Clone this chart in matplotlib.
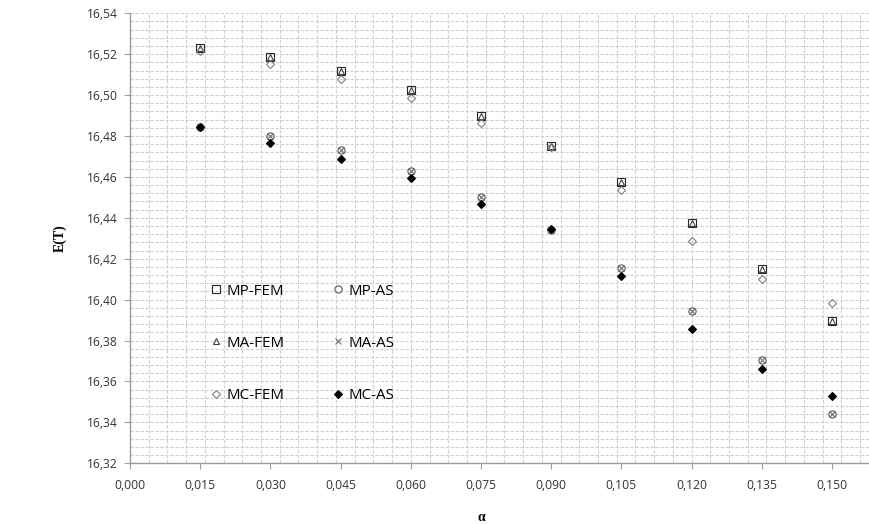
import numpy as np
import matplotlib
matplotlib.use("Agg")
import matplotlib.pyplot as plt
from matplotlib.ticker import MultipleLocator, FuncFormatter

# alpha values and E(T) for each method
alpha = [0.015, 0.030, 0.045, 0.060, 0.075, 0.090, 0.105, 0.120, 0.135, 0.150]

mp_fem = [16.5228, 16.5186, 16.5117, 16.5023, 16.4897, 16.4751, 16.4575, 16.4375, 16.4150, 16.3898]
ma_fem = [16.5228, 16.5186, 16.5117, 16.5023, 16.4897, 16.4751, 16.4575, 16.4375, 16.4150, 16.3898]
mc_fem = [16.5216, 16.5154, 16.5078, 16.4986, 16.4865, 16.4748, 16.4535, 16.4287, 16.4103, 16.3984]

mp_as = [16.4842, 16.4799, 16.4730, 16.4628, 16.4501, 16.4343, 16.4157, 16.3945, 16.3704, 16.3443]
ma_as = [16.4842, 16.4799, 16.4730, 16.4628, 16.4501, 16.4343, 16.4157, 16.3945, 16.3704, 16.3443]
mc_as = [16.4842, 16.4766, 16.4687, 16.4593, 16.4467, 16.4344, 16.4114, 16.3859, 16.3660, 16.3529]

x_ticks = np.arange(0, 0.1501, 0.015)
y_ticks = np.arange(16.32, 16.5401, 0.02)

fig = plt.figure(figsize=(8.69, 5.24), dpi=100)
# plot area runs off the right edge of the figure
ax = fig.add_axes([130 / 869, 60.7 / 524, 748.8 / 869, 450 / 524])

mk = dict(ls='none', markeredgewidth=0.8)
h_mpf, = ax.plot(alpha, mp_fem, marker='s', ms=5.2, mfc='none', mec='#262626', label='MP-FEM', **mk)
h_mpa, = ax.plot(alpha, mp_as, marker='o', ms=5.2, mfc='none', mec='#595959', label='MP-AS', **mk)
h_maf, = ax.plot(alpha, ma_fem, marker='^', ms=4.4, mfc='none', mec='#404040', label='MA-FEM', **mk)
h_maa, = ax.plot(alpha, ma_as, marker='x', ms=4.4, mfc='none', mec='#6e6e6e', label='MA-AS', **mk)
h_mcf, = ax.plot(alpha, mc_fem, marker='D', ms=4.0, mfc='none', mec='#7f7f7f', label='MC-FEM', **mk)
h_mca, = ax.plot(alpha, mc_as, marker='D', ms=4.0, mfc='black', mec='black', label='MC-AS', **mk)

ax.set_xlim(0, 0.16)
ax.set_ylim(16.32, 16.54)

ax.set_xticks(x_ticks)
ax.set_yticks(y_ticks)
ax.xaxis.set_minor_locator(MultipleLocator(0.004))
ax.yaxis.set_minor_locator(MultipleLocator(0.004))
ax.xaxis.remove_overlapping_locs = False

ax.xaxis.set_major_formatter(FuncFormatter(lambda v, p: f'{v:.3f}'.replace('.', ',')))
ax.yaxis.set_major_formatter(FuncFormatter(lambda v, p: f'{v:.2f}'.replace('.', ',')))

tick_font = dict(family='Open Sans', size=8.7)
for lab in ax.get_xticklabels() + ax.get_yticklabels():
    lab.set_fontfamily(tick_font['family'])
    lab.set_fontsize(tick_font['size'])
    lab.set_color('#333333')

ax.tick_params(which='major', direction='out', length=4, width=0.8, color='#a0a0a0', pad=5)
ax.tick_params(axis='x', which='major', pad=7)
ax.tick_params(which='minor', length=0)

# dashed gridlines every 0.004 on both axes
grid_style = dict(color='#cfcfcf', linestyle=(0, (3, 1.5)), linewidth=0.8)
ax.xaxis.grid(False, which='major')
ax.xaxis.grid(True, which='minor', **grid_style)
ax.yaxis.grid(True, which='both', **grid_style)
ax.set_axisbelow(True)

for side in ['top', 'right']:
    ax.spines[side].set_visible(False)
for side in ['left', 'bottom']:
    ax.spines[side].set_color('#9a9a9a')
    ax.spines[side].set_linewidth(1.0)

ax.set_ylabel('E(T)', family='Liberation Serif', weight='bold', fontsize=10)
ax.yaxis.set_label_coords(-0.084, 0.5)
ax.set_xlabel('α', family='Liberation Serif', weight='bold', fontsize=10)
ax.xaxis.set_label_coords(0.469, -0.105)

handles = [h_mpf, h_maf, h_mcf, h_mpa, h_maa, h_mca]
ax.legend(handles=handles, labels=[h.get_label() for h in handles],
          ncol=2, frameon=False, loc='upper left',
          bbox_to_anchor=(0.0961, 0.4163), borderpad=0,
          handlelength=0.8, handletextpad=0.3, columnspacing=3.13,
          labelspacing=2.46, prop=dict(family='Open Sans', size=10.9))

fig.savefig('out.png', dpi=100)
